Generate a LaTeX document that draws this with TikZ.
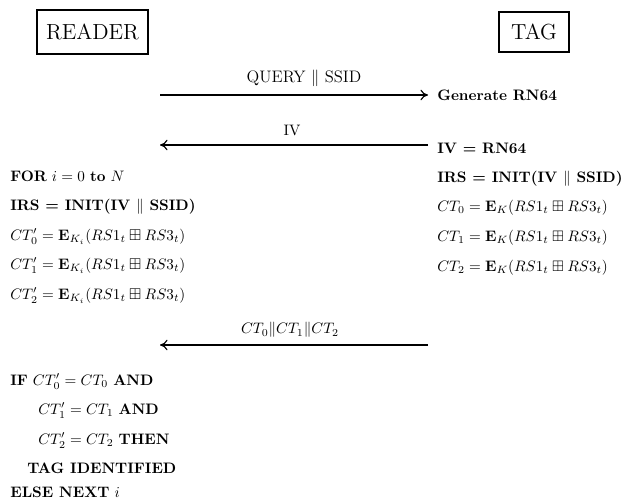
\documentclass[tikz,border=0pt]{standalone}
\usepackage{amssymb}
\usetikzlibrary{arrows.meta}
\begin{document}
\begin{tikzpicture}[x=0.66pt,y=-0.66pt,
  party/.style={draw,line width=0.9pt,inner sep=0pt,font=\Large},
  txt/.style={anchor=mid west,inner sep=0pt},
  lbl/.style={inner sep=0pt},
  msg/.style={line width=0.75pt,-{To[length=5pt,width=7pt]}}]
\useasboundingbox (0,0) rectangle (623,504);
% parties
\node[party,minimum width=111*0.66pt,minimum height=44*0.66pt] (reader) at (92.5,32) {READER};
\node[party,minimum width=70*0.66pt,minimum height=40*0.66pt] (tag) at (534,32) {TAG};
% message 1
\coordinate (m1s) at (160,95);
\coordinate (m1e) at (428,95);
\draw[msg] (m1s) -- (m1e);
\node[lbl,font=\fontsize{11}{13}\selectfont] (l1) at (304,78) {QUERY $\|$ SSID};
\node[txt] (gen) at (437,97) {\textbf{Generate RN64}};
% message 2
\coordinate (m2s) at (428,145);
\coordinate (m2e) at (160,145);
\draw[msg] (m2s) -- (m2e);
\node[lbl] (l2) at (292,130) {IV};
% tag side
\node[txt] (t1) at (437,150) {\textbf{IV = RN64}};
\node[txt] (t2) at (437,179) {\textbf{IRS = INIT(IV $\|$ SSID)}};
\node[txt] (t3) at (437,208) {$CT_0=\mathbf{E}_K(RS1_t\boxplus RS3_t)$};
\node[txt] (t4) at (437,238) {$CT_1=\mathbf{E}_K(RS1_t\boxplus RS3_t)$};
\node[txt] (t5) at (437,268) {$CT_2=\mathbf{E}_K(RS1_t\boxplus RS3_t)$};
% reader side
\node[txt] (r1) at (10,178) {\textbf{FOR} $i=0$ \textbf{to} $N$};
\node[txt] (r2) at (10,207) {\textbf{IRS = INIT(IV $\|$ SSID)}};
\node[txt,font=\fontsize{10.3}{12}\selectfont] (r3) at (10,237) {$CT'_0=\mathbf{E}_{K_i}(RS1_t\boxplus RS3_t)$};
\node[txt,font=\fontsize{10.3}{12}\selectfont] (r4) at (10,266) {$CT'_1=\mathbf{E}_{K_i}(RS1_t\boxplus RS3_t)$};
\node[txt,font=\fontsize{10.3}{12}\selectfont] (r5) at (10,296) {$CT'_2=\mathbf{E}_{K_i}(RS1_t\boxplus RS3_t)$};
% message 3
\coordinate (m3s) at (428,345);
\coordinate (m3e) at (160,345);
\draw[msg] (m3s) -- (m3e);
\node[lbl] (l3) at (290,330) {$CT_0\|CT_1\|CT_2$};
% decision
\node[txt] (d1) at (10,382) {\textbf{IF} $CT'_0=CT_0$ \textbf{AND}};
\node[txt] (d2) at (38,411) {$CT'_1=CT_1$ \textbf{AND}};
\node[txt] (d3) at (38,441) {$CT'_2=CT_2$ \textbf{THEN}};
\node[txt] (d4) at (27,470) {\textbf{TAG IDENTIFIED}};
\node[txt] (d5) at (10,494) {\textbf{ELSE NEXT} $i$};
\end{tikzpicture}
\end{document}
